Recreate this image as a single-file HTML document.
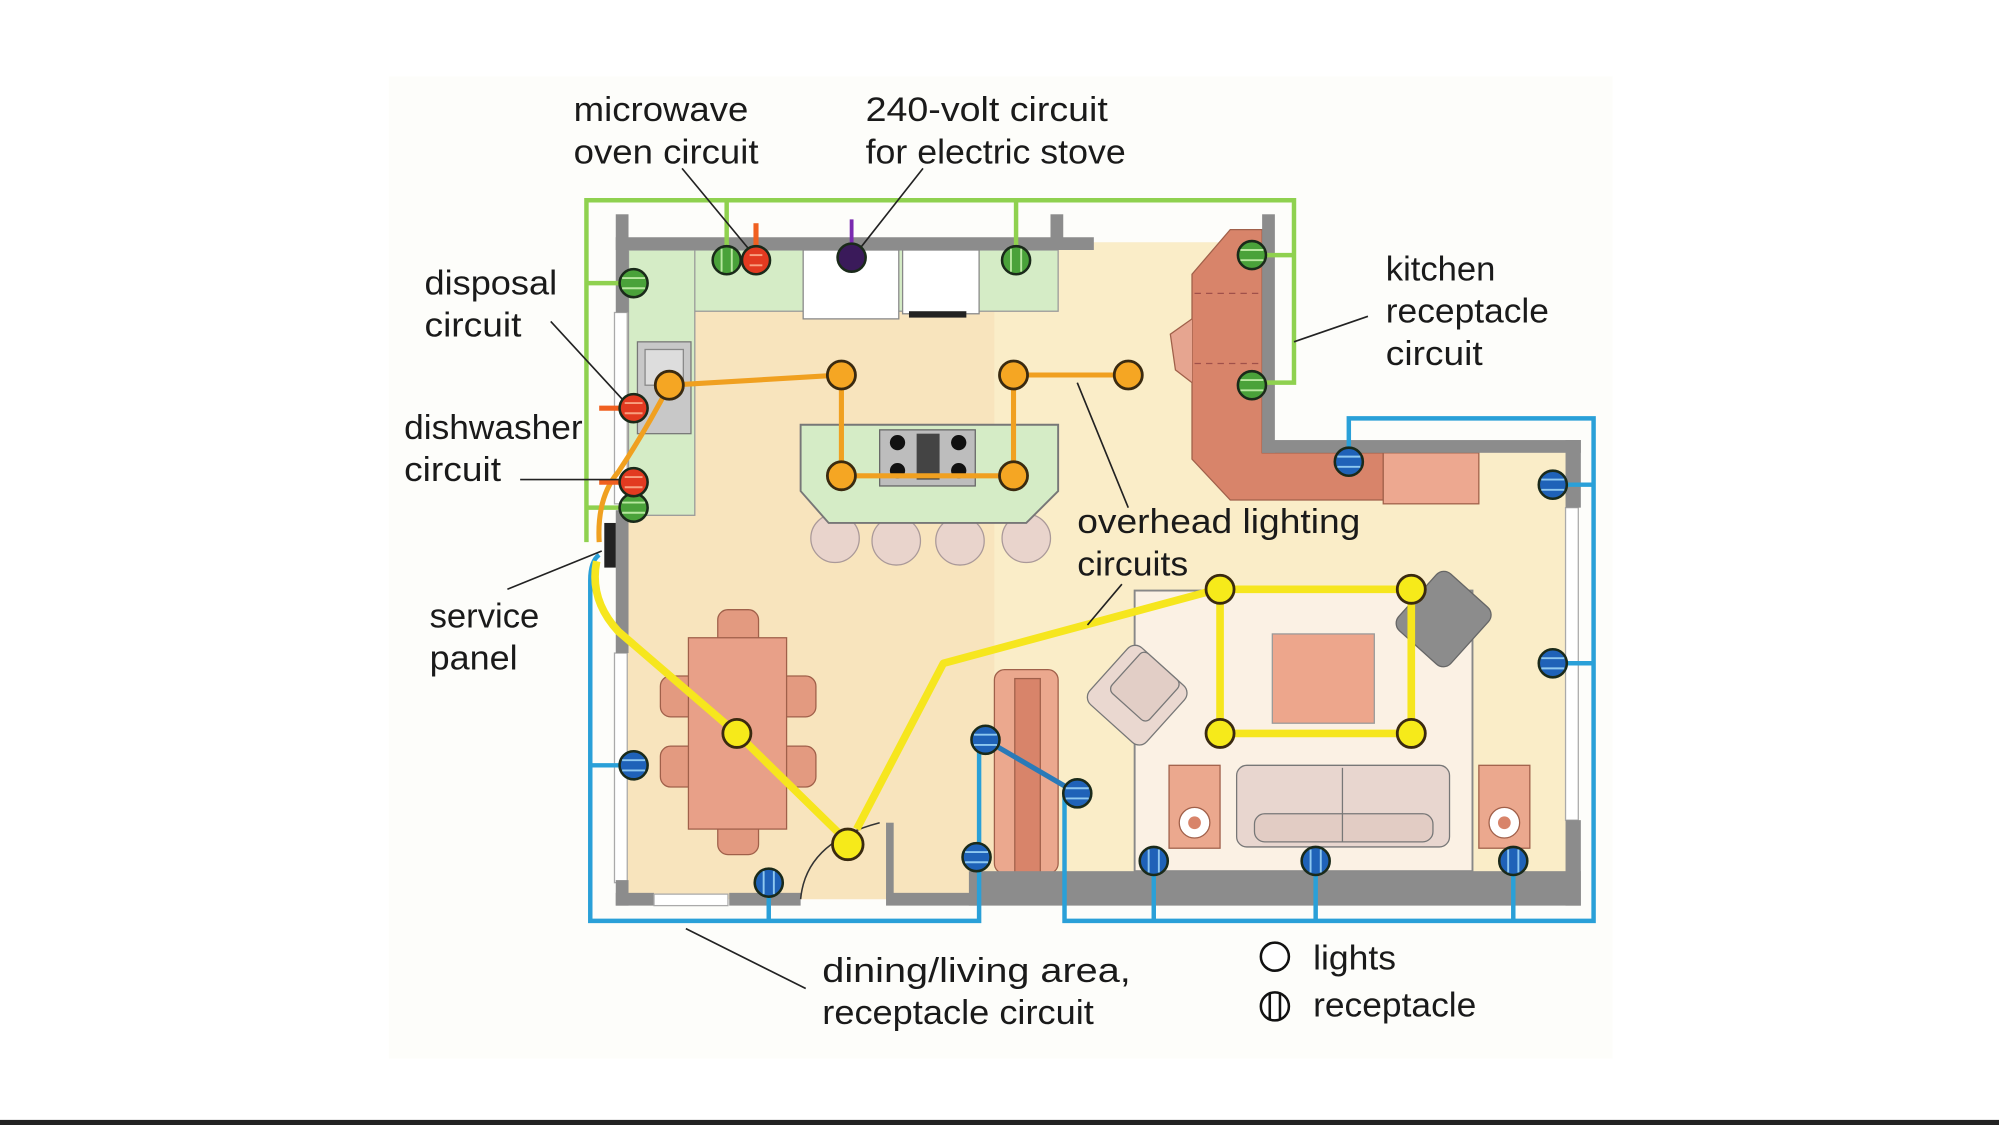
<!DOCTYPE html>
<html><head><meta charset="utf-8"><style>
html,body{margin:0;padding:0;background:#fff;}
svg{display:block;}
text{font-family:"Liberation Sans",sans-serif;font-size:27px;fill:#1a1a1a;}
</style></head><body>
<svg width="1999" height="1125" viewBox="0 0 1568 882" preserveAspectRatio="none" xmlns="http://www.w3.org/2000/svg">
<rect x="0" y="0" width="1568" height="882" fill="#ffffff"/>
<rect x="305" y="60" width="960" height="770" fill="#fdfdfa"/>
<rect x="0" y="878" width="1568" height="4" fill="#222"/>
<!-- floor -->
<polygon points="488,190 995,190 995,350 1235,350 1235,705 488,705" fill="#f8e4bd"/>
<polygon points="780,190 995,190 995,350 1235,350 1235,705 780,705" fill="#faedc8"/>
<!-- kitchen counters -->
<rect x="493" y="196" width="337" height="48" fill="#d5ecc6" stroke="#999" stroke-width="1"/>
<rect x="493" y="196" width="52" height="208" fill="#d5ecc6" stroke="#999" stroke-width="1"/>
<rect x="630" y="196" width="75" height="54" fill="#fff" stroke="#888" stroke-width="1"/>
<rect x="708" y="196" width="60" height="50" fill="#fff" stroke="#888" stroke-width="1"/>
<rect x="713" y="244" width="45" height="5" fill="#222"/>
<rect x="500" y="268" width="42" height="72" fill="#c8c8c8" stroke="#777"/>
<rect x="506" y="274" width="30" height="28" fill="#ddd" stroke="#888"/>
<rect x="482" y="245" width="10" height="150" fill="#fff" stroke="#aaa"/>
<!-- island -->
<circle cx="655" cy="422" r="19" fill="#e9d4cc" stroke="#a99"/>
<circle cx="703" cy="424" r="19" fill="#e9d4cc" stroke="#a99"/>
<circle cx="753" cy="424" r="19" fill="#e9d4cc" stroke="#a99"/>
<circle cx="805" cy="422" r="19" fill="#e9d4cc" stroke="#a99"/>
<polygon points="628,333 830,333 830,385 805,410 650,410 628,385" fill="#d5ecc6" stroke="#777" stroke-width="1.5"/>
<rect x="690" y="337" width="75" height="44" fill="#bdbdbd" stroke="#666"/>
<circle cx="704" cy="347" r="6" fill="#111"/><circle cx="752" cy="347" r="6" fill="#111"/>
<circle cx="704" cy="369" r="6" fill="#111"/><circle cx="752" cy="369" r="6" fill="#111"/>
<rect x="719" y="340" width="18" height="36" fill="#444"/>
<!-- kitchen right counter -->
<polygon points="965,180 990,180 990,355 1085,355 1085,392 965,392 935,360 935,215" fill="#d8846a" stroke="#a0604a"/>
<path d="M935,250 L918,262 L922,290 L935,300" fill="#e6a590" stroke="#a0604a"/>
<line x1="937" y1="230" x2="990" y2="230" stroke="#a0504a" stroke-dasharray="5,4"/>
<line x1="937" y1="285" x2="990" y2="285" stroke="#a0504a" stroke-dasharray="5,4"/>
<rect x="1085" y="355" width="75" height="40" fill="#eda890" stroke="#a0604a"/>
<!-- dining -->
<rect x="563" y="478" width="32" height="30" rx="8" fill="#e39a80" stroke="#a0604a"/>
<rect x="563" y="640" width="32" height="30" rx="8" fill="#e39a80" stroke="#a0604a"/>
<rect x="518" y="530" width="30" height="32" rx="8" fill="#e39a80" stroke="#a0604a"/>
<rect x="518" y="585" width="30" height="32" rx="8" fill="#e39a80" stroke="#a0604a"/>
<rect x="610" y="530" width="30" height="32" rx="8" fill="#e39a80" stroke="#a0604a"/>
<rect x="610" y="585" width="30" height="32" rx="8" fill="#e39a80" stroke="#a0604a"/>
<rect x="540" y="500" width="77" height="150" fill="#e8a088" stroke="#a0604a"/>
<!-- fireplace -->
<rect x="780" y="525" width="50" height="160" rx="8" fill="#eba88e" stroke="#a0604a"/>
<rect x="796" y="532" width="20" height="153" fill="#d8846a" stroke="#a0604a"/>
<!-- living -->
<rect x="890" y="463" width="265" height="220" fill="#fbf1e4" stroke="#888" stroke-width="1.5"/>
<rect x="998" y="497" width="80" height="70" fill="#eda68c" stroke="#999"/>
<rect x="1105" y="455" width="55" height="60" rx="8" fill="#8c8c8c" stroke="#666" transform="rotate(42 1132 485)"/>
<g transform="rotate(42 892 545)"><rect x="862" y="515" width="60" height="60" rx="8" fill="#ead8d0" stroke="#777"/><rect x="872" y="515" width="40" height="42" rx="5" fill="#e2cec6" stroke="#777"/></g>
<rect x="917" y="600" width="40" height="65" fill="#eba88e" stroke="#a0604a"/>
<circle cx="937" cy="645" r="12" fill="#fff" stroke="#a0604a"/><circle cx="937" cy="645" r="5" fill="#d8846a"/>
<rect x="1160" y="600" width="40" height="65" fill="#eba88e" stroke="#a0604a"/>
<circle cx="1180" cy="645" r="12" fill="#fff" stroke="#a0604a"/><circle cx="1180" cy="645" r="5" fill="#d8846a"/>
<rect x="970" y="600" width="167" height="64" rx="8" fill="#e8d6cf" stroke="#777"/>
<rect x="984" y="638" width="140" height="22" rx="8" fill="#e2ccc4" stroke="#777"/>
<line x1="1053" y1="602" x2="1053" y2="660" stroke="#777"/>
<!-- windows -->
<rect x="1228" y="398" width="10" height="245" fill="#fff" stroke="#aaa"/>
<rect x="482" y="512" width="10" height="180" fill="#fff" stroke="#aaa"/>
<!-- walls -->
<g fill="#8c8c8c">
<rect x="483" y="168" width="10" height="77"/>
<rect x="483" y="400" width="10" height="112"/>
<rect x="483" y="690" width="10" height="20"/>
<rect x="483" y="186" width="375" height="10"/>
<rect x="824" y="168" width="10" height="28"/>
<rect x="990" y="168" width="10" height="187"/>
<rect x="990" y="345" width="250" height="10"/>
<rect x="1228" y="345" width="12" height="53"/>
<rect x="1228" y="643" width="12" height="67"/>
<rect x="483" y="700" width="30" height="10"/>
<rect x="572" y="700" width="56" height="10"/>
<rect x="695" y="700" width="75" height="10"/>
<rect x="695" y="645" width="6" height="60"/>
<rect x="760" y="683" width="480" height="27"/>
</g>
<rect x="513" y="701" width="58" height="9" fill="#fff" stroke="#aaa"/>
<rect x="474" y="410" width="9" height="35" fill="#222"/>
<path d="M628,705 Q632,660 690,645" fill="none" stroke="#333" stroke-width="1.2"/>
<!-- green wires -->
<g stroke="#8fd14f" stroke-width="3.5" fill="none">
<polyline points="460,425 460,157 1015,157 1015,300 990,300"/>
<line x1="570" y1="157" x2="570" y2="200"/><line x1="797" y1="157" x2="797" y2="200"/>
<line x1="1015" y1="200" x2="990" y2="200"/>
<line x1="460" y1="222" x2="490" y2="222"/><line x1="460" y1="398" x2="490" y2="398"/>
</g>
<!-- blue wires -->
<g stroke="#2aa0d8" stroke-width="3.5" fill="none">
<path d="M470,435 Q463,440 463,455 L463,722 L768,722 L768,672"/>
<line x1="463" y1="600" x2="495" y2="600"/>
<line x1="603" y1="692" x2="603" y2="722"/>
<line x1="768" y1="672" x2="768" y2="583"/>
<polyline points="1058,362 1058,328 1250,328 1250,722 835,722 835,622"/>
<line x1="1250" y1="380" x2="1220" y2="380"/><line x1="1250" y1="520" x2="1220" y2="520"/>
<line x1="905" y1="675" x2="905" y2="722"/><line x1="1032" y1="675" x2="1032" y2="722"/><line x1="1187" y1="675" x2="1187" y2="722"/>
</g>
<line x1="773" y1="580" x2="845" y2="622" stroke="#2a7ab8" stroke-width="4"/>
<!-- orange wires -->
<g stroke="#f0a020" stroke-width="4" fill="none">
<path d="M470,425 Q468,390 485,370 Q505,340 525,302"/>
<polyline points="525,302 660,294 660,373 795,373 795,294 885,294"/>
<line x1="470" y1="320" x2="490" y2="320" stroke="#f06020"/>
<line x1="470" y1="378" x2="490" y2="378" stroke="#f06020"/>
<line x1="593" y1="175" x2="593" y2="200" stroke="#f06020"/>
</g>
<line x1="668" y1="172" x2="668" y2="200" stroke="#7a2ab0" stroke-width="3"/>
<!-- yellow wires -->
<g stroke="#f6e61e" stroke-width="6" fill="none" stroke-linejoin="round">
<path d="M468,440 Q462,470 485,495 L578,575 L665,660"/>
<path d="M672,650 L740,520 L955,462"/>
<polyline points="957,462 1107,462 1107,575 957,575 957,462"/>
</g>
<!-- label leaders -->
<g stroke="#222" stroke-width="1.3">
<line x1="535" y1="132" x2="588" y2="196"/><line x1="724" y1="132" x2="672" y2="198"/>
<line x1="432" y1="252" x2="490" y2="315"/><line x1="408" y1="376" x2="488" y2="376"/>
<line x1="398" y1="462" x2="472" y2="432"/><line x1="1073" y1="248" x2="1015" y2="268"/>
<line x1="845" y1="300" x2="885" y2="398"/><line x1="880" y1="458" x2="853" y2="490"/>
<line x1="538" y1="728" x2="632" y2="775"/>
</g>
<!-- lights -->
<g stroke="#3a2a10" stroke-width="2.2">
<g fill="#f5a623"><circle cx="525" cy="302" r="11"/><circle cx="660" cy="294" r="11"/><circle cx="795" cy="294" r="11"/><circle cx="885" cy="294" r="11"/><circle cx="660" cy="373" r="11"/><circle cx="795" cy="373" r="11"/></g>
<g fill="#f6ea1a"><circle cx="957" cy="462" r="11"/><circle cx="1107" cy="462" r="11"/><circle cx="957" cy="575" r="11"/><circle cx="1107" cy="575" r="11"/><circle cx="578" cy="575" r="11"/><circle cx="665" cy="662" r="12"/></g>
</g>
<!-- receptacles -->
<g stroke="#1a2a1a" stroke-width="2">
<g fill="#4aa23a"><circle cx="570" cy="204" r="11"/><circle cx="797" cy="204" r="11"/><circle cx="497" cy="222" r="11"/><circle cx="982" cy="200" r="11"/><circle cx="982" cy="302" r="11"/><circle cx="497" cy="398" r="11"/></g>
<g fill="#e23a20"><circle cx="593" cy="204" r="11"/><circle cx="497" cy="320" r="11"/><circle cx="497" cy="378" r="11"/></g>
<circle cx="668" cy="202" r="11" fill="#3a1a5a"/>
<g fill="#1f62b8"><circle cx="1058" cy="362" r="11"/><circle cx="1218" cy="380" r="11"/><circle cx="1218" cy="520" r="11"/><circle cx="497" cy="600" r="11"/><circle cx="603" cy="692" r="11"/><circle cx="773" cy="580" r="11"/><circle cx="845" cy="622" r="11"/><circle cx="766" cy="672" r="11"/><circle cx="905" cy="675" r="11"/><circle cx="1032" cy="675" r="11"/><circle cx="1187" cy="675" r="11"/></g>
</g>
<g stroke="#b8e8a0" stroke-width="1.5">
<line x1="566" y1="195" x2="566" y2="213"/><line x1="574" y1="195" x2="574" y2="213"/>
<line x1="793" y1="195" x2="793" y2="213"/><line x1="801" y1="195" x2="801" y2="213"/>
<line x1="488" y1="218" x2="506" y2="218"/><line x1="488" y1="226" x2="506" y2="226"/>
<line x1="973" y1="196" x2="991" y2="196"/><line x1="973" y1="204" x2="991" y2="204"/>
<line x1="973" y1="298" x2="991" y2="298"/><line x1="973" y1="306" x2="991" y2="306"/>
<line x1="488" y1="394" x2="506" y2="394"/><line x1="488" y1="402" x2="506" y2="402"/>
</g>
<g stroke="#8ec8f0" stroke-width="1.5">
<line x1="1049" y1="358" x2="1067" y2="358"/><line x1="1049" y1="366" x2="1067" y2="366"/>
<line x1="1209" y1="376" x2="1227" y2="376"/><line x1="1209" y1="384" x2="1227" y2="384"/>
<line x1="1209" y1="516" x2="1227" y2="516"/><line x1="1209" y1="524" x2="1227" y2="524"/>
<line x1="488" y1="596" x2="506" y2="596"/><line x1="488" y1="604" x2="506" y2="604"/>
<line x1="599" y1="683" x2="599" y2="701"/><line x1="607" y1="683" x2="607" y2="701"/>
<line x1="764" y1="576" x2="782" y2="576"/><line x1="764" y1="584" x2="782" y2="584"/>
<line x1="836" y1="618" x2="854" y2="618"/><line x1="836" y1="626" x2="854" y2="626"/>
<line x1="757" y1="668" x2="775" y2="668"/><line x1="757" y1="676" x2="775" y2="676"/>
<line x1="901" y1="666" x2="901" y2="684"/><line x1="909" y1="666" x2="909" y2="684"/>
<line x1="1028" y1="666" x2="1028" y2="684"/><line x1="1036" y1="666" x2="1036" y2="684"/>
<line x1="1183" y1="666" x2="1183" y2="684"/><line x1="1191" y1="666" x2="1191" y2="684"/>
</g>
<g stroke="#f8a080" stroke-width="1.5">
<line x1="588" y1="200" x2="598" y2="200"/><line x1="588" y1="208" x2="598" y2="208"/>
<line x1="490" y1="316" x2="504" y2="316"/><line x1="490" y1="324" x2="504" y2="324"/>
<line x1="490" y1="374" x2="504" y2="374"/><line x1="490" y1="382" x2="504" y2="382"/>
</g>
<!-- legend -->
<circle cx="1000" cy="750" r="11" fill="#fff" stroke="#111" stroke-width="2"/>
<circle cx="1000" cy="789" r="11" fill="#fff" stroke="#111" stroke-width="2"/>
<line x1="996" y1="779" x2="996" y2="799" stroke="#111" stroke-width="2"/>
<line x1="1004" y1="779" x2="1004" y2="799" stroke="#111" stroke-width="2"/>
<!-- labels -->
<text x="450" y="95" textLength="137" lengthAdjust="spacingAndGlyphs">microwave</text>
<text x="450" y="128" textLength="145" lengthAdjust="spacingAndGlyphs">oven circuit</text>
<text x="679" y="95" textLength="190" lengthAdjust="spacingAndGlyphs">240-volt circuit</text>
<text x="679" y="128" textLength="204" lengthAdjust="spacingAndGlyphs">for electric stove</text>
<text x="333" y="231" textLength="104" lengthAdjust="spacingAndGlyphs">disposal</text>
<text x="333" y="264" textLength="76" lengthAdjust="spacingAndGlyphs">circuit</text>
<text x="317" y="344" textLength="140" lengthAdjust="spacingAndGlyphs">dishwasher</text>
<text x="317" y="377" textLength="76" lengthAdjust="spacingAndGlyphs">circuit</text>
<text x="337" y="492" textLength="86" lengthAdjust="spacingAndGlyphs">service</text>
<text x="337" y="525" textLength="69" lengthAdjust="spacingAndGlyphs">panel</text>
<text x="1087" y="220" textLength="86" lengthAdjust="spacingAndGlyphs">kitchen</text>
<text x="1087" y="253" textLength="128" lengthAdjust="spacingAndGlyphs">receptacle</text>
<text x="1087" y="286" textLength="76" lengthAdjust="spacingAndGlyphs">circuit</text>
<text x="845" y="418" textLength="222" lengthAdjust="spacingAndGlyphs">overhead lighting</text>
<text x="845" y="451" textLength="87" lengthAdjust="spacingAndGlyphs">circuits</text>
<text x="645" y="770" textLength="242" lengthAdjust="spacingAndGlyphs">dining/living area,</text>
<text x="645" y="803" textLength="213" lengthAdjust="spacingAndGlyphs">receptacle circuit</text>
<text x="1030" y="760" textLength="65" lengthAdjust="spacingAndGlyphs">lights</text>
<text x="1030" y="797" textLength="128" lengthAdjust="spacingAndGlyphs">receptacle</text>
</svg>
</body></html>
